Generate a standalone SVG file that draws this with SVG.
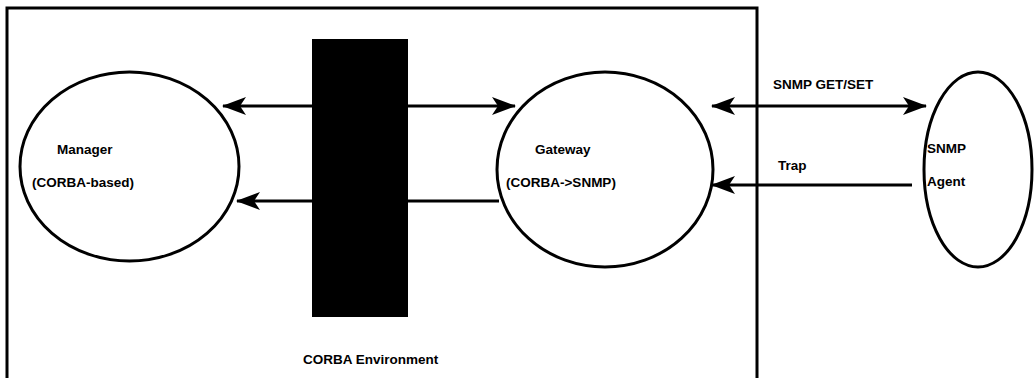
<svg xmlns="http://www.w3.org/2000/svg" width="1034" height="378" viewBox="0 0 1034 378">
<style>
.ln{fill:none;stroke:#000;stroke-width:3}
.el{fill:#fff;stroke:#000;stroke-width:3}
.t{font-family:"Liberation Sans",Arial,sans-serif;font-size:13.5px;font-weight:bold;fill:#000}
</style>
<defs>
<marker id="ah" markerUnits="userSpaceOnUse" markerWidth="24" markerHeight="18" refX="23" refY="9" orient="auto-start-reverse" viewBox="0 0 24 18">
<path d="M0,0 L24,9 L0,18 L6,9 z" fill="#000"/>
</marker>
</defs>
<g id="corba-environment">
<path class="ln" d="M7,380 L7,8 L757,8 L757,380"/>
<text class="t" x="303" y="364">CORBA Environment</text>
</g>
<g id="orb-bar">
<rect x="312" y="39" width="96" height="278" fill="#000"/>
</g>
<g id="manager">
<ellipse class="el" cx="129.5" cy="166.5" rx="109.5" ry="94.5"/>
<text class="t" x="57" y="154">Manager</text>
<text class="t" x="32" y="187">(CORBA-based)</text>
</g>
<g id="gateway">
<ellipse class="el" cx="605" cy="169.5" rx="108" ry="97.5"/>
<text class="t" x="535" y="154">Gateway</text>
<text class="t" x="506" y="187">(CORBA-&gt;SNMP)</text>
</g>
<g id="agent">
<ellipse class="el" cx="978" cy="169.5" rx="54" ry="97.5"/>
<text class="t" x="927" y="153">SNMP</text>
<text class="t" x="927" y="186">Agent</text>
</g>
<g id="connectors">
<line class="ln" x1="312" y1="106" x2="223" y2="106" marker-end="url(#ah)"/>
<line class="ln" x1="408" y1="106" x2="515" y2="106" marker-end="url(#ah)"/>
<line class="ln" x1="312" y1="201" x2="237" y2="201" marker-end="url(#ah)"/>
<line class="ln" x1="408" y1="201" x2="499" y2="201"/>
<line class="ln" x1="712" y1="106" x2="926" y2="106" marker-start="url(#ah)" marker-end="url(#ah)"/>
<line class="ln" x1="912" y1="185" x2="712" y2="185" marker-end="url(#ah)"/>
<text class="t" x="773" y="89">SNMP GET/SET</text>
<text class="t" x="778" y="170">Trap</text>
</g>
</svg>
